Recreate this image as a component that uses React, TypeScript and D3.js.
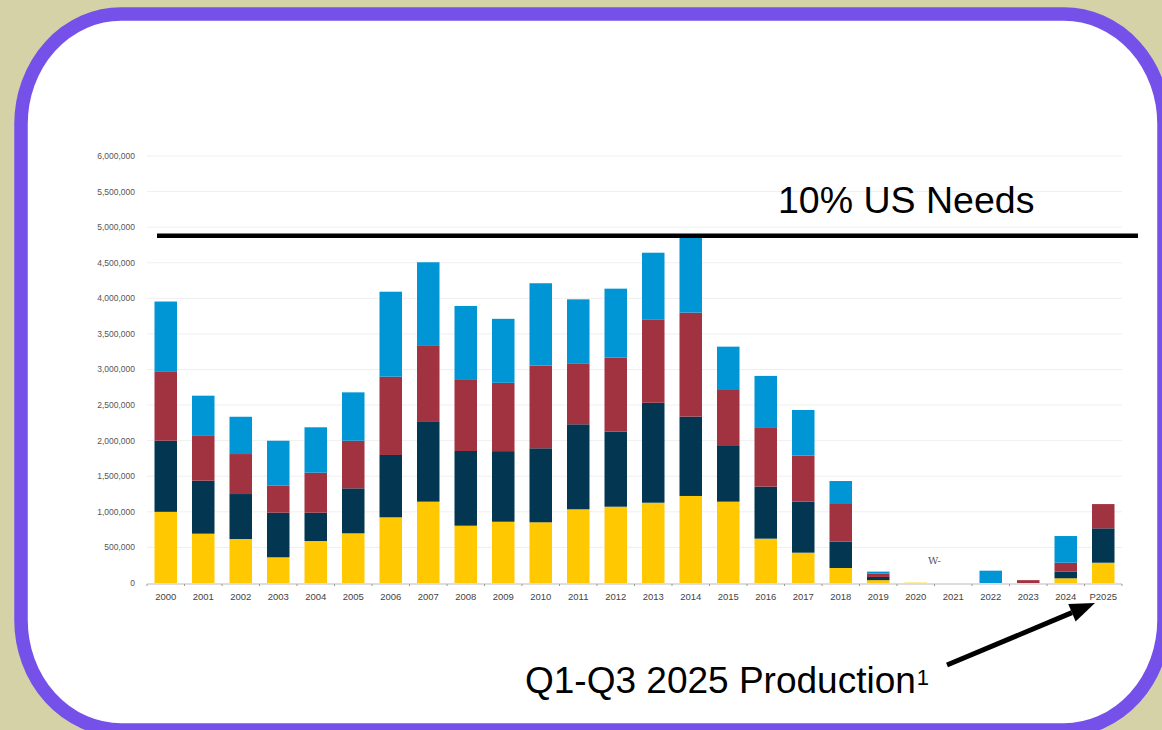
import React from "react";
import * as d3 from "d3";

const years = ["2000","2001","2002","2003","2004","2005","2006","2007","2008","2009","2010","2011","2012","2013","2014","2015","2016","2017","2018","2019","2020","2021","2022","2023","2024","P2025"];
const yellowSeries = [1000000,693000,618000,361000,590000,698000,923000,1143000,805000,861000,853000,1036000,1072000,1128000,1223000,1143000,623000,426000,211000,40000,5000,0,0,0,66000,285000];
const navySeries = [1000000,745000,632000,627000,398000,632000,876000,1120000,1050000,992000,1040000,1194000,1054000,1405000,1115000,782000,731000,717000,370000,45000,0,0,0,0,93000,483000];
const redSeries = [975000,638000,562000,379000,562000,669000,1100000,1078000,998000,960000,1161000,857000,1040000,1172000,1461000,787000,835000,646000,529000,45000,0,0,0,40000,126000,341000];
const blueSeries = [980000,556000,524000,632000,638000,680000,1194000,1166000,1040000,899000,1158000,899000,970000,936000,1063000,609000,721000,642000,323000,30000,0,0,173000,0,375000,0];
const yTicks = [0,500000,1000000,1500000,2000000,2500000,3000000,3500000,4000000,4500000,5000000,5500000,6000000];
const needsLevel = 4880000;
const needsLabel = "10% US Needs";
const noteLabel = "Q1-Q3 2025 Production";

const keys = ["yellow","navy","red","blue"];
const colors: Record<string,string> = { yellow: "#FFC800", navy: "#033651", red: "#A1323F", blue: "#0096D6" };

export default function App() {
  const W = 1162, H = 730;
  const left = 147, right = 1122, top = 156, bottom = 583;
  const x = d3.scaleBand<string>().domain(years).range([left, right]).paddingInner(0.4).paddingOuter(0.2);
  const y = d3.scaleLinear().domain([0, 6000000]).range([bottom, top]);
  const rows = years.map((yr, i) => ({ year: yr, yellow: yellowSeries[i], navy: navySeries[i], red: redSeries[i], blue: blueSeries[i] }));
  const stacked = d3.stack<any>().keys(keys)(rows);
  const fmt = d3.format(",");
  const step = x.step();
  const boundaries = d3.range(years.length + 1).map(i => left + i * step);

  // arrow geometry
  const ax0 = 947, ay0 = 665, ax1 = 1095, ay1 = 603;
  const dx = ax1 - ax0, dy = ay1 - ay0, len = Math.hypot(dx, dy);
  const ux = dx / len, uy = dy / len;
  const hl = 25, hw = 9.5;
  const bx = ax1 - hl * ux, by = ay1 - hl * uy;
  const head = [[ax1, ay1], [bx + hw * -uy, by + hw * ux], [bx - hw * -uy, by - hw * ux]].map(p => p.join(",")).join(" ");

  return (
    <svg width={W} height={H} style={{ position: "fixed", left: 0, top: 0 }} fontFamily="'Liberation Sans', Arial, Helvetica, sans-serif">
      <rect x={0} y={0} width={W} height={H} fill="#D6D2A8" />
      <rect x={21} y={14} width={1143} height={716} rx={100} ry={110} fill="#ffffff" stroke="#7551E9" strokeWidth={13.5} />
      {yTicks.map(t => (
        <g key={t}>
          {t > 0 && <line x1={left} x2={right} y1={y(t)} y2={y(t)} stroke="#EFEFEF" strokeWidth={1} />}
          <text x={135} y={y(t)} dy="0.35em" textAnchor="end" fontSize={8.5} fill="#555">{fmt(t)}</text>
        </g>
      ))}
      {stacked.map(layer => (
        <g key={layer.key} fill={colors[layer.key]}>
          {layer.map((d, i) => {
            const h = y(d[0]) - y(d[1]);
            if (h <= 0) return null;
            return <rect key={i} x={x(years[i])} y={y(d[1])} width={x.bandwidth()} height={h} />;
          })}
        </g>
      ))}
      <line x1={left} x2={right} y1={bottom + 1} y2={bottom + 1} stroke="#BBBBBB" strokeWidth={1} />
      {boundaries.map((b, i) => (
        <line key={i} x1={b} x2={b} y1={bottom + 1} y2={bottom + 3} stroke="#999" strokeWidth={1} />
      ))}
      {years.map(yr => (
        <text key={yr} x={(x(yr) as number) + x.bandwidth() / 2} y={600} textAnchor="middle" fontSize={9.5} fill="#444">{yr}</text>
      ))}
      <text x={928} y={564} fontSize={10} fill="#555" fontFamily="'DejaVu Serif', serif">W-</text>
      <line x1={157} x2={1138} y1={y(needsLevel)} y2={y(needsLevel)} stroke="#000" strokeWidth={4.5} />
      <text x={778} y={213} fontSize={37.5} fill="#000">{needsLabel}</text>
      <text x={525} y={693} fontSize={37} fill="#000">{noteLabel}<tspan fontSize={22} dy={-8} dx={1}>1</tspan></text>
      <line x1={ax0} y1={ay0} x2={bx} y2={by} stroke="#000" strokeWidth={5} />
      <polygon points={head} fill="#000" />
    </svg>
  );
}
